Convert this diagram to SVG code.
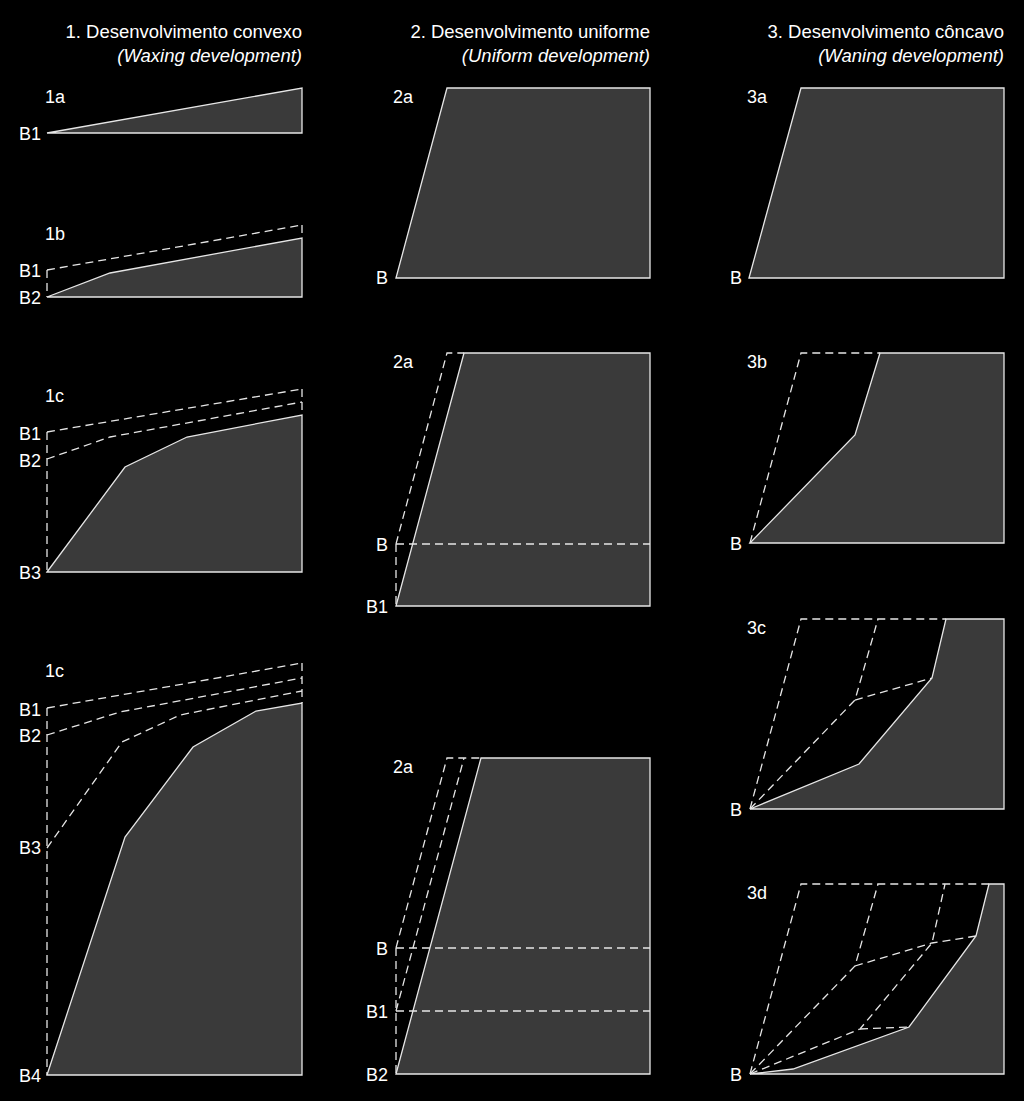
<svg xmlns="http://www.w3.org/2000/svg" width="1024" height="1101" viewBox="0 0 1024 1101">
<style>
.bg{fill:#000}
.sol{fill:#3a3a3a;stroke:#e6e6e6;stroke-width:1.3;stroke-linejoin:miter}
.dash{fill:none;stroke:#e6e6e6;stroke-width:1.3;stroke-dasharray:8 5}
text{font-family:"Liberation Sans",Arial,sans-serif;font-size:18px;fill:#fff}
.t{text-anchor:end;font-size:18.5px}
.it{font-style:italic;text-anchor:end;font-size:18.5px}
.r{text-anchor:end}
</style>
<rect class="bg" x="0" y="0" width="1024" height="1101"/>
<g id="titles">
<text class="t" x="302" y="38">1. Desenvolvimento convexo</text>
<text class="it" x="302" y="62">(Waxing development)</text>
<text class="t" x="650" y="38">2. Desenvolvimento uniforme</text>
<text class="it" x="650" y="62">(Uniform development)</text>
<text class="t" x="1004" y="38">3. Desenvolvimento côncavo</text>
<text class="it" x="1004" y="62">(Waning development)</text>
</g>
<g id="p1a">
<polygon class="sol" points="47,133 302,88 302,133"/>
<text x="45" y="103">1a</text>
<text class="r" x="41" y="140">B1</text>
</g>
<g id="p1b">
<polyline class="dash" points="47,270 302,225"/>
<line class="dash" x1="47" y1="270" x2="47" y2="297"/>
<line class="dash" x1="302" y1="225" x2="302" y2="238"/>
<polygon class="sol" points="47,297 110,273 302,238 302,297"/>
<text x="45" y="240">1b</text>
<text class="r" x="41" y="277">B1</text>
<text class="r" x="41" y="304">B2</text>
</g>
<g id="p1c">
<polyline class="dash" points="47,432 302,389"/>
<polyline class="dash" points="47,459 110,437 302,402"/>
<line class="dash" x1="47" y1="432" x2="47" y2="572"/>
<line class="dash" x1="302" y1="389" x2="302" y2="415"/>
<polygon class="sol" points="47,572 125,467 187,437 302,415 302,572"/>
<text x="45" y="402">1c</text>
<text class="r" x="41" y="440">B1</text>
<text class="r" x="41" y="467">B2</text>
<text class="r" x="41" y="579">B3</text>
</g>
<g id="p1c2">
<polyline class="dash" points="47,708 302,663"/>
<polyline class="dash" points="47,735 120,712 302,678"/>
<polyline class="dash" points="47,848 122,742 180,715 302,691"/>
<line class="dash" x1="47" y1="708" x2="47" y2="1075"/>
<line class="dash" x1="302" y1="663" x2="302" y2="703"/>
<polygon class="sol" points="47,1075 125,837 193,747 256,711 302,703 302,1075"/>
<text x="45" y="677">1c</text>
<text class="r" x="41" y="716">B1</text>
<text class="r" x="41" y="742">B2</text>
<text class="r" x="41" y="854">B3</text>
<text class="r" x="41" y="1082">B4</text>
</g>
<g id="p2a">
<polygon class="sol" points="396,278 447,88 650,88 650,278"/>
<text x="393" y="103">2a</text>
<text class="r" x="388" y="284">B</text>
</g>
<g id="p2a2">
<polygon class="sol" points="396,606 464,353 650,353 650,606"/>
<polyline class="dash" points="396,544 447,353 464,353"/>
<line class="dash" x1="396" y1="544" x2="650" y2="544"/>
<line class="dash" x1="396" y1="544" x2="396" y2="606"/>
<text x="393" y="368">2a</text>
<text class="r" x="388" y="551">B</text>
<text class="r" x="388" y="613">B1</text>
</g>
<g id="p2a3">
<polygon class="sol" points="396,1074 481,758 650,758 650,1074"/>
<polyline class="dash" points="396,948 447,758 481,758"/>
<polyline class="dash" points="396,1011 464,758"/>
<line class="dash" x1="396" y1="948" x2="650" y2="948"/>
<line class="dash" x1="396" y1="1011" x2="650" y2="1011"/>
<line class="dash" x1="396" y1="948" x2="396" y2="1074"/>
<text x="393" y="773">2a</text>
<text class="r" x="388" y="955">B</text>
<text class="r" x="388" y="1018">B1</text>
<text class="r" x="388" y="1081">B2</text>
</g>
<g id="p3a">
<polygon class="sol" points="749,278 801,88 1004,88 1004,278"/>
<text x="747" y="103">3a</text>
<text class="r" x="742" y="284">B</text>
</g>
<g id="p3b">
<polygon class="sol" points="750,543 855,435 880,353 1004,353 1004,543"/>
<polyline class="dash" points="750,543 801,353 880,353"/>
<text x="747" y="368">3b</text>
<text class="r" x="742" y="550">B</text>
</g>
<g id="p3c">
<polygon class="sol" points="750,809 859,764 932,678 946,619 1004,619 1004,809"/>
<polyline class="dash" points="750,809 801,619 946,619"/>
<polyline class="dash" points="750,809 855,700 878,619"/>
<polyline class="dash" points="855,700 932,678"/>
<text x="747" y="634">3c</text>
<text class="r" x="742" y="816">B</text>
</g>
<g id="p3d">
<polygon class="sol" points="750,1074 793,1069 909,1027 976,936 989,884 1004,884 1004,1074"/>
<polyline class="dash" points="750,1074 801,884 989,884"/>
<polyline class="dash" points="750,1074 855,966 878,884"/>
<polyline class="dash" points="750,1074 860,1029 932,943 945,884"/>
<polyline class="dash" points="855,966 932,943 976,936"/>
<polyline class="dash" points="860,1029 909,1027"/>
<text x="747" y="899">3d</text>
<text class="r" x="742" y="1081">B</text>
</g>
</svg>
